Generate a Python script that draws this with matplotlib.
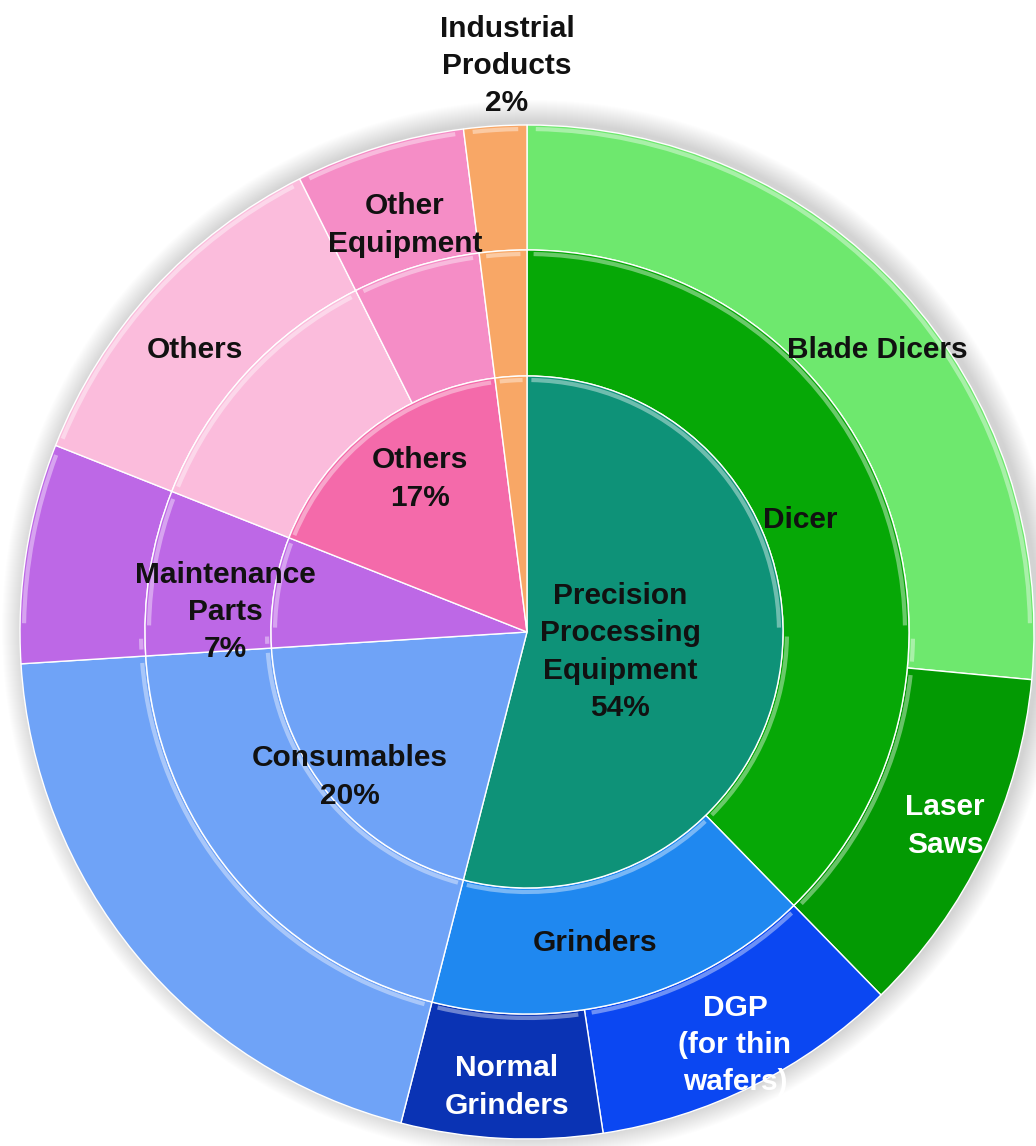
import matplotlib
matplotlib.use("Agg")
import matplotlib.pyplot as plt
from matplotlib.patches import Arc, Circle
from matplotlib.colors import to_rgb

# inner ring: segments (% of sales)
inner_labels = ["Precision\nProcessing\nEquipment\n54%", "Consumables\n20%",
                "Maintenance\nParts\n7%", "Others\n17%", ""]
inner_values = [54, 20, 7, 17, 2]
inner_colors = ["#0E9278", "#6FA3F7", "#BD68E6", "#F46AAA", "#F8A766"]

# middle ring
middle_values = [37.7, 16.3, 20, 7, 11.6, 5.4, 2]
middle_colors = ["#06A806", "#1F88F0", "#6FA3F7", "#BD68E6", "#FBBCDC", "#F58DC6", "#F8A766"]

# outer ring
outer_values = [26.5, 11.2, 9.9, 6.4, 20, 7, 11.6, 5.4, 2]
outer_colors = ["#6EE86E", "#039A03", "#0B47F2", "#0A33B4", "#6FA3F7", "#BD68E6",
                "#FBBCDC", "#F58DC6", "#F8A766"]

W, H = 1036, 1146
cx, cy = 527, H - 632
R_OUT, R_MID, R_IN = 507, 382, 256

fig = plt.figure(figsize=(W / 100, H / 100), dpi=100)
ax = fig.add_axes([0, 0, 1, 1])

# soft halo behind the disc
for k in range(22, 0, -1):
    ax.add_patch(Circle((cx + 4, cy + 3), R_OUT + k, color="#000000",
                        alpha=0.007, lw=0, zorder=0))

rings = [
    (outer_values, outer_colors, R_OUT, R_OUT - R_MID),
    (middle_values, middle_colors, R_MID, R_MID - R_IN),
    (inner_values, inner_colors, R_IN, R_IN),
]

all_wedges = []
for vals, cols, r, w in rings:
    wedges, _ = ax.pie(vals, radius=r, center=(cx, cy), startangle=90,
                       counterclock=False, colors=cols,
                       wedgeprops=dict(width=w, edgecolor="white", linewidth=1.0))
    for wd in wedges:
        wd.set_zorder(2)
    all_wedges.append((wedges, r, w))


def lighten(c, f):
    r, g, b = to_rgb(c)
    return (r + (1 - r) * f, g + (1 - g) * f, b + (1 - b) * f)


def overlap(a1, a2, b1, b2):
    lo, hi = max(a1, b1), min(a2, b2)
    return (lo, hi) if hi - lo > 1 else None


# bevel highlights on the upward-facing arc edges of each segment
for wedges, r, w in all_wedges:
    for wd in wedges:
        t1, t2 = wd.theta1 % 360, wd.theta1 % 360 + (wd.theta2 - wd.theta1)
        col = lighten(wd.get_facecolor(), 0.5)
        for shift in (-360, 0, 360):
            seg = overlap(t1, t2, 0 + shift, 180 + shift)
            if seg:
                ax.add_patch(Arc((cx, cy), 2 * (r - 4), 2 * (r - 4), theta1=seg[0] + 1,
                                 theta2=seg[1] - 1, color=col, lw=3, alpha=0.8, zorder=3))
            if w < r:
                seg = overlap(t1, t2, 180 + shift, 360 + shift)
                if seg:
                    ri = r - w + 4
                    ax.add_patch(Arc((cx, cy), 2 * ri, 2 * ri, theta1=seg[0] + 1,
                                     theta2=seg[1] - 1, color=col, lw=3, alpha=0.8, zorder=3))

font = ["Liberation Sans Narrow", "Liberation Sans", "DejaVu Sans"]


def label(x, y, s, color="#111111"):
    ax.text(x, H - y, s, ha="center", va="center", fontsize=21.5, color=color,
            family=font, fontweight="bold", linespacing=1.42, zorder=5)


label(507, 66, "Industrial\nProducts\n2%")
label(405, 225, "Other\nEquipment")
label(195, 350, "Others")
label(877, 350, "Blade Dicers")
label(800, 520, "Dicer")
label(420, 479, inner_labels[3])
label(225, 612, inner_labels[2])
label(620, 652, inner_labels[0])
label(350, 777, inner_labels[1])
label(945, 826, "Laser\nSaws", color="white")
label(595, 943, "Grinders")
label(735, 1045, "DGP\n(for thin\nwafers)", color="white")
label(507, 1087, "Normal\nGrinders", color="white")

ax.set_xlim(0, W)
ax.set_ylim(0, H)
ax.set_aspect("equal")
ax.axis("off")
fig.savefig("out.png", dpi=100, facecolor="white")
